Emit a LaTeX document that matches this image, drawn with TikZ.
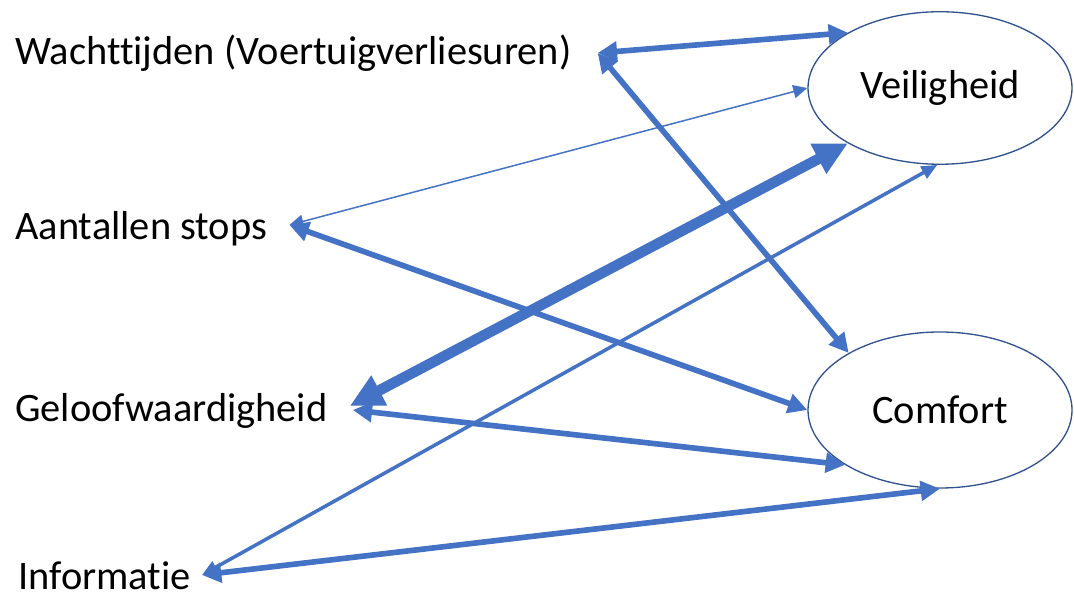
\documentclass[tikz,border=0pt]{standalone}
\usepackage{fontspec}
\setmainfont{Carlito}[Ligatures=NoCommon]
\usetikzlibrary{arrows.meta,shapes.geometric}
\definecolor{linkblue}{HTML}{4472C4}
\definecolor{rimblue}{HTML}{2F528F}
\tikzset{
	factor/.style={anchor=base west, inner sep=0pt, font=\fontsize{23}{27}\selectfont},
	goal/.style={ellipse, draw=rimblue, line width=0.75pt, minimum width=5.28cm, minimum height=3.05cm, font=\fontsize{23}{27}\selectfont},
	weak/.style={draw=linkblue, line width=0.85pt, {Triangle[length=8pt,width=7.5pt]}-{Triangle[length=8pt,width=7.5pt]}},
	mid/.style={draw=linkblue, line width=2pt, {Triangle[length=9pt,width=7.5pt]}-{Triangle[length=9pt,width=7.5pt]}},
	strong/.style={draw=linkblue, line width=3.2pt, {Triangle[length=11pt,width=11pt]}-{Triangle[length=11pt,width=11pt]}},
	heavy/.style={draw=linkblue, line width=6pt, {Triangle[length=19pt,width=18pt]}-{Triangle[length=19pt,width=18pt]}}
}

\begin{document}
\begin{tikzpicture}
		%%%%% START %%%%%
		\useasboundingbox (0, 0) rectangle (21.48, 11.98);
		
		\node[factor] (wach) at (0.3, 10.68) {Wachttijden (Voertuigverliesuren)};
		\node[factor] (stops) at (0.3, 7.18) {Aantallen stops};
		\node[factor] (geloof) at (0.3, 3.54) {Geloofwaardigheid};
		\node[factor] (info) at (0.36, 0.2) {Informatie};
		
		\node[goal] (veil) at (18.8, 10.22) {Veiligheid};
		\node[goal, minimum height=3.12cm] (comf) at (18.8, 3.78) {Comfort};
		
		\draw[strong] ([shift={(0.52, 0.24)}]wach.base east) -- (veil.149);
		\draw[strong] ([shift={(0.52, 0.24)}]wach.base east) -- (comf.148);
		
		\draw[weak] ([shift={(0.44, 0.30)}]stops.base east) -- (veil.180);
		\draw[strong] ([shift={(0.44, 0.30)}]stops.base east) -- (comf.180);
		
		\draw[heavy] ([shift={(0.44, 0.32)}]geloof.base east) -- (veil.211);
		\draw[strong] ([shift={(0.50, 0.24)}]geloof.base east) -- (comf.210);
		
		\draw[mid] ([shift={(0.22, 0.28)}]info.base east) -- (veil.268);
		\draw[strong] ([shift={(0.22, 0.28)}]info.base east) -- (comf.270);
		
		%%%%% END %%%%%
\end{tikzpicture}
\end{document}
